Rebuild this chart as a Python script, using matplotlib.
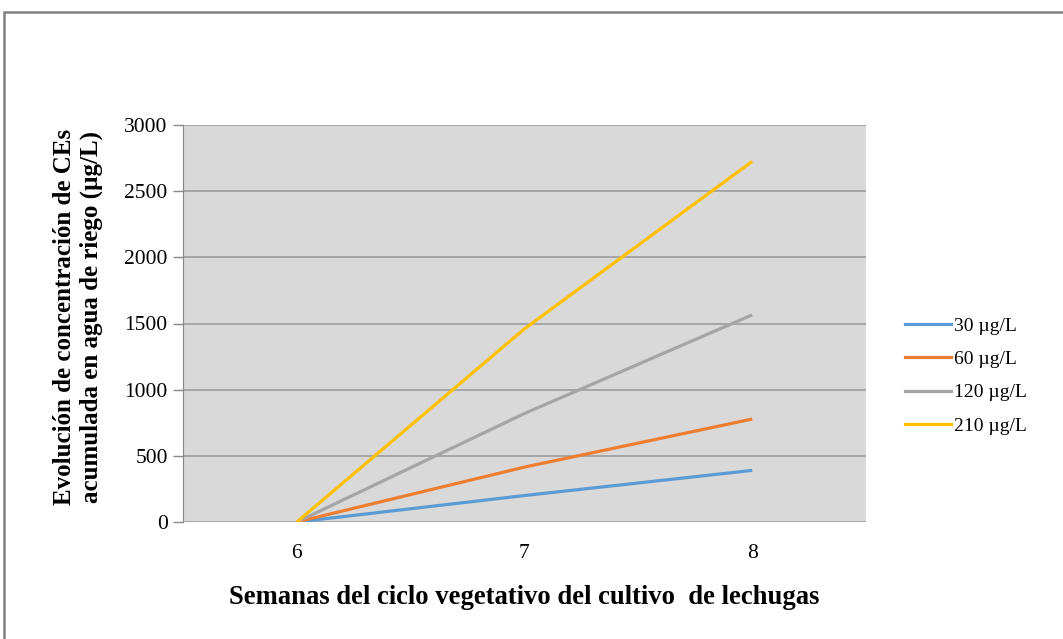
import matplotlib
matplotlib.use("Agg")
import matplotlib.pyplot as plt
from matplotlib.patches import Rectangle
from matplotlib.lines import Line2D

weeks = [6, 7, 8]
week_labels = ["6", "7", "8"]
s30 = [0, 200, 390]
s60 = [0, 415, 778]
s120 = [0, 820, 1565]
s210 = [0, 1460, 2725]
series_names = ["30 µg/L", "60 µg/L", "120 µg/L", "210 µg/L"]
colors = ["#5B9BD5", "#ED7D31", "#A5A5A5", "#FFC000"]
yticks = [0, 500, 1000, 1500, 2000, 2500, 3000]

plt.rcParams['font.family'] = ['Liberation Serif', 'DejaVu Serif']

fig = plt.figure(figsize=(10.63, 6.39), dpi=100)
W, H = 1063, 639
ax = fig.add_axes([183 / W, 1 - 522 / H, (866 - 183) / W, (522 - 125) / H])
ax.set_facecolor("#D9D9D9")

for vals, name, c in zip([s30, s60, s120, s210], series_names, colors):
    ax.plot(weeks, vals, color=c, lw=2.3, label=name, solid_capstyle='butt')

ax.set_xlim(5.5, 8.5)
ax.set_ylim(0, 3000)
ax.set_yticks(yticks)
ax.set_yticklabels([str(v) for v in yticks], fontsize=15.5)
ax.set_xticks(weeks)
ax.set_xticklabels(week_labels, fontsize=15.5)
ax.tick_params(axis='x', length=0, pad=16)
ax.tick_params(axis='y', length=7, color="#888888", width=1, pad=4)
ax.grid(axis='y', color="#9C9C9C", lw=1.2)
ax.set_axisbelow(True)
for s in ["top", "right", "bottom"]:
    ax.spines[s].set_visible(False)
ax.spines["left"].set_color("#888888")

ax.set_xlabel("Semanas del ciclo vegetativo del cultivo  de lechugas",
              fontsize=19.2, fontweight='bold', va='center')
ax.xaxis.set_label_coords(0.5, (522 - 597) / 397)
ax.set_ylabel("Evolución de concentración de CEs\nacumulada en agua de riego (µg/L)",
              fontsize=18, fontweight='bold', linespacing=1.25, va='center')
ax.yaxis.set_label_coords((78 - 183) / 683, (522 - 317) / 397)

handles = [Line2D([0], [0], color=c, lw=2.3) for c in colors]
fig.legend(handles, series_names, loc='center left',
           bbox_to_anchor=(887 / W, 1 - 376 / H), frameon=False,
           fontsize=14, handlelength=2.4, handletextpad=0.15,
           labelspacing=0.8)

fig.patches.append(Rectangle((4 / W, -0.05), 1.2, 1 - 12 / H + 0.05,
                             transform=fig.transFigure, fill=False,
                             edgecolor="#808080", lw=1.8))

fig.savefig("out.png", dpi=100)
